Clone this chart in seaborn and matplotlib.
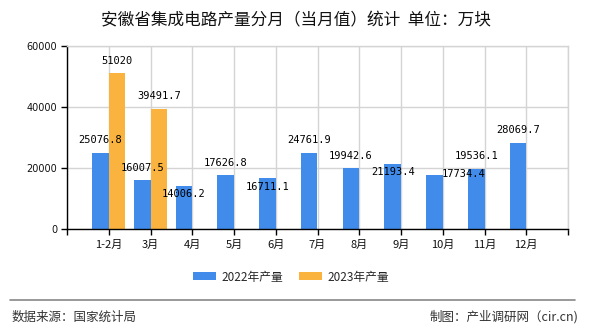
import matplotlib
matplotlib.use("Agg")
import matplotlib.pyplot as plt
import seaborn as sns
import pandas as pd
from matplotlib.patches import Patch

months = ["1-2月", "3月", "4月", "5月", "6月", "7月", "8月", "9月", "10月", "11月", "12月"]
values_2022 = [25076.8, 16007.5, 14006.2, 17626.8, 16711.1, 24761.9, 19942.6, 21193.4, 17734.4, 19536.1, 28069.7]
months_2023 = ["1-2月", "3月"]
values_2023 = [51020, 39491.7]
series_names = ["2022年产量", "2023年产量"]
y_ticks = [0, 20000, 40000, 60000]

title = "安徽省集成电路产量分月（当月值）统计  单位：万块"
source = "数据来源：国家统计局"
maker = "制图：产业调研网（cir.cn)"

colors = ["#418BEB", "#FBB33F"]

df = pd.concat([
    pd.DataFrame({"month": months, "value": values_2022, "series": series_names[0]}),
    pd.DataFrame({"month": months_2023, "value": values_2023, "series": series_names[1]}),
], ignore_index=True)

sns.set_theme(style="white")
plt.rcParams["font.family"] = ["Noto Sans CJK SC", "DejaVu Sans"]

fig = plt.figure(figsize=(5.9, 3.3), dpi=100)
ax = fig.add_axes([67 / 590, 1 - 229 / 330, (568 - 67) / 590, (229 - 46) / 330])

sns.barplot(data=df, x="month", y="value", hue="series", order=months,
            hue_order=series_names, palette=colors, width=0.8, dodge=True,
            saturation=1, ax=ax, legend=False, errorbar=None,
            edgecolor="none", linewidth=0)

ax.set_xlim(-1, len(months))
ax.set_ylim(0, 60000)
ax.set_xticks(range(-1, len(months) + 1))
ax.set_xticklabels([""] + months + [""], fontsize=8, color="#111111")
ax.set_yticks(y_ticks)
ax.set_yticklabels([str(v) for v in y_ticks], fontsize=7, family="DejaVu Sans", color="#111111")
ax.set_xlabel("")
ax.set_ylabel("")
ax.grid(True, color="#d4d4d4", linewidth=1)
ax.set_axisbelow(True)
for s in ["top", "right"]:
    ax.spines[s].set_color("#d4d4d4")
    ax.spines[s].set_linewidth(1)
for s in ["left", "bottom"]:
    ax.spines[s].set_color("#000000")
    ax.spines[s].set_linewidth(1)
ax.tick_params(axis="both", which="both", direction="out", length=4, width=1,
               color="#000000", bottom=True, left=True, pad=3)
ax.tick_params(axis="x", pad=4)

# data labels (per-bar offsets in pixels, matching the reference placement)
offsets = [
    [(0, 13), (0, 12), (0, -8), (0, 12), (0, -9), (0, 13), (0, 12), (0, -8), (29, 1), (0, 13), (0, 13)],
    [(0, 12), (0, 13)],
]
for ci, cont in enumerate(ax.containers):
    for bi, bar in enumerate(cont):
        h = bar.get_height()
        if h != h or h == 0:
            continue
        dx, dy = offsets[ci][bi]
        ax.annotate(f"{h:g}", xy=(bar.get_x() + bar.get_width() / 2, h),
                    xytext=(dx, dy), textcoords="offset pixels",
                    ha="center", va="center", fontsize=7.5,
                    family="DejaVu Sans Mono", color="#000000")

handles = [Patch(facecolor=c, edgecolor="none") for c in colors]
fig.legend(handles, series_names, loc="center", bbox_to_anchor=(291 / 590, 1 - 277 / 330),
           ncol=2, frameon=False, fontsize=8.5, handlelength=1.9, handleheight=0.65,
           handletextpad=0.45, columnspacing=1.4)

fig.text(296 / 590, 1 - 21 / 330, title, ha="center", va="center", fontsize=12, color="#111111")
fig.add_artist(plt.Line2D([10 / 590, 575 / 590], [1 - 300 / 330] * 2, color="#888888", linewidth=1.2))
fig.text(12 / 590, 1 - 317 / 330, source, ha="left", va="center", fontsize=9, color="#333333")
fig.text(578 / 590, 1 - 317 / 330, maker, ha="right", va="center", fontsize=9, color="#333333")

fig.savefig("out.png", dpi=100, facecolor="white")
